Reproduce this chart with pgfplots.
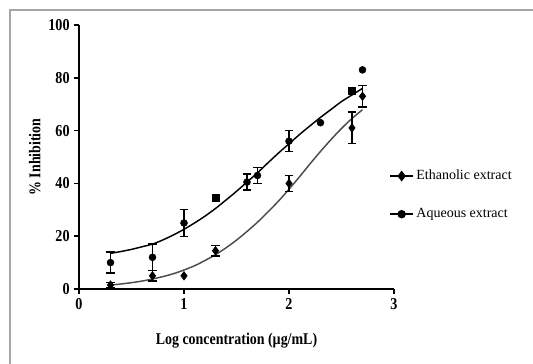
\documentclass[border=0pt]{standalone}
\usepackage{fontspec}
\setmainfont{Liberation Serif}
\newfontfamily\condfont[FakeStretch=0.85]{Liberation Serif}
\usepackage{pgfplots}
\pgfplotsset{compat=1.18}
\begin{document}
\begin{tikzpicture}
\useasboundingbox (0pt,0pt) rectangle (399.75pt,273pt);
\draw[gray!70, line width=0.9pt] (7.5pt,0pt) -- (7.5pt,265.5pt) -- (399.75pt,265.5pt);
\begin{axis}[
  at={(59.25pt,56.25pt)}, anchor=south west,
  scale only axis, width=236.25pt, height=198pt,
  xmin=0, xmax=3, ymin=0, ymax=100,
  axis x line=bottom, axis y line=left,
  axis line style={-, line width=1.4pt},
  xtick={0,1,2,3}, ytick={0,20,40,60,80,100},
  tick align=outside, major tick length=3.5pt,
  tick style={line width=1.2pt, black},
  /pgf/number format/assume math mode=true,
  ticklabel style={font=\condfont\bfseries\fontsize{12.5}{14}\selectfont},
  xlabel={Log concentration (µg/mL)},
  ylabel={\% Inhibition},
  label style={font=\condfont\bfseries\fontsize{12.3}{14}\selectfont},
  xlabel style={at={(axis description cs:0.5,-0.195)}, anchor=center},
  ylabel style={at={(axis description cs:-0.14,0.5)}, anchor=center},
  clip=false,
  legend style={draw=none, fill=none, at={(axis description cs:0.985,0.356)}, anchor=west,
    font=\fontsize{10.5}{12}\selectfont, row sep=16pt, inner sep=0pt},
  legend cell align=left,
  error bars/error mark options={rotate=90, mark size=3.2pt, line width=1pt},
  error bars/error bar style={line width=1pt},
]
\addlegendimage{black, line width=1.1pt, mark=diamond*, mark size=3.2pt}
\addlegendentry{Ethanolic extract}
\addlegendimage{black, line width=1.1pt, mark=*, mark size=2.6pt}
\addlegendentry{Aqueous extract}

% fitted curves
\addplot[black!70, line width=1.1pt, smooth, forget plot] coordinates {
 (0.3,1.5) (0.4,1.9) (0.5,2.4) (0.6,3.0) (0.7,3.8) (0.8,4.7) (0.9,5.8) (1.0,7.2)
 (1.1,8.8) (1.2,10.8) (1.3,13.0) (1.4,15.6) (1.5,18.5) (1.6,21.8) (1.7,25.3) (1.8,29.2)
 (1.9,33.3) (2.0,37.8) (2.1,42.5) (2.2,47.4) (2.3,52.1) (2.4,56.6) (2.5,60.8) (2.6,64.6) (2.7,67.9)};
\addplot[black, line width=1.1pt, smooth, forget plot] coordinates {
 (0.3,13.5) (0.4,14.2) (0.5,15) (0.6,16) (0.7,17) (0.8,18.6) (0.9,20.5) (1.0,22.6)
 (1.1,25) (1.2,27.6) (1.3,30.5) (1.4,33.7) (1.5,37) (1.6,40.5) (1.7,44) (1.8,47.8)
 (1.9,51.5) (2.0,55) (2.1,58.5) (2.2,61.8) (2.3,65) (2.4,68) (2.5,71) (2.6,73.5) (2.7,76)};

% Ethanolic extract
\addplot[black, only marks, mark=diamond*, mark size=3.2pt, forget plot,
  error bars/.cd, y dir=both, y explicit] coordinates {
 (0.3,1.5) +- (0,1) (0.7,5) +- (0,2) (1.3,14.5) +- (0,2)
 (2.0,40) +- (0,3) (2.6,61) +- (0,6) (2.7,73) +- (0,4)};
\addplot[black, only marks, mark=diamond*, mark size=3.2pt, forget plot] coordinates {
 (1.0,5)};
% Aqueous extract
\addplot[black, only marks, mark=*, mark size=2.6pt, forget plot,
  error bars/.cd, y dir=both, y explicit] coordinates {
 (0.3,10) +- (0,4) (0.7,12) +- (0,5) (1.0,25) +- (0,5) (1.6,40.5) +- (0,3)
 (1.7,43) +- (0,3) (2.0,56) +- (0,4)};
\addplot[black, only marks, mark=*, mark size=2.6pt, forget plot] coordinates {
 (2.3,63) (2.7,83)};
\addplot[black, only marks, mark=square*, mark size=2.6pt, forget plot] coordinates {
 (1.3,34.5) (2.6,75)};
\end{axis}
\end{tikzpicture}
\end{document}
